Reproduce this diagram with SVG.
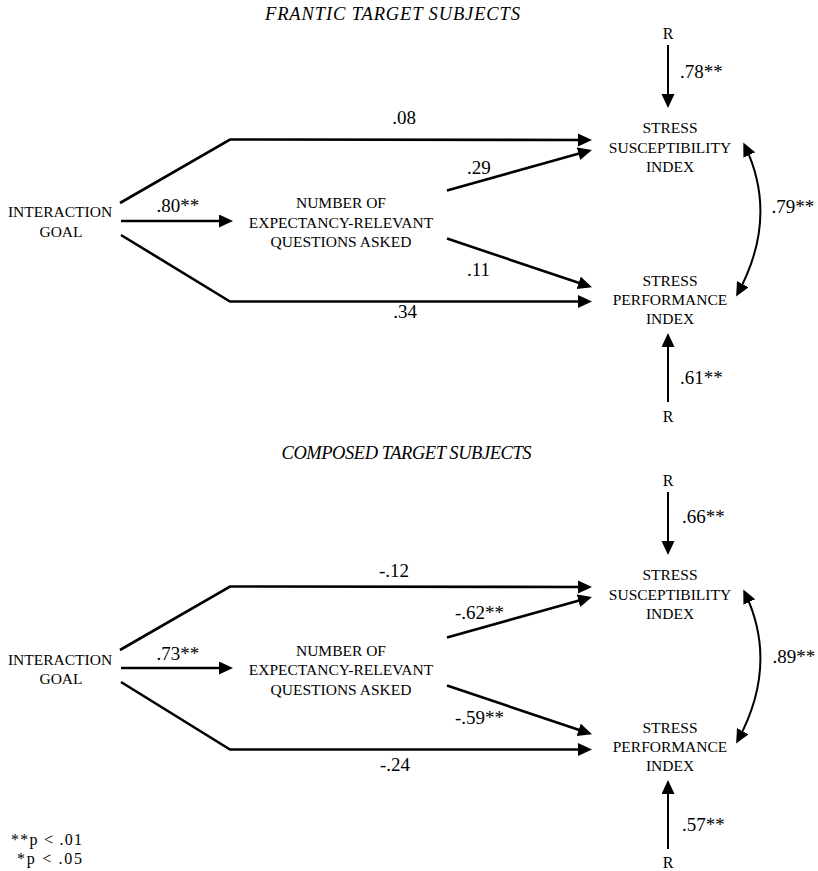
<svg xmlns="http://www.w3.org/2000/svg" width="818" height="871" viewBox="0 0 818 871" font-family="'Liberation Serif', 'Times New Roman', serif">
<style>
text{font-family:"Liberation Serif","Times New Roman",serif;fill:#000}
.t{font-size:18.5px;font-style:italic;text-anchor:middle}
.n{font-size:15.5px;text-anchor:middle}
.c{font-size:19px}
.rr{font-size:16px;text-anchor:middle}
.f{font-size:16px}
.m{text-anchor:middle}
.ln{fill:none;stroke:#000;stroke-width:2.6}
.r{fill:none;stroke:#000;stroke-width:2}
</style>
<defs>
<marker id="ah" markerUnits="userSpaceOnUse" markerWidth="16" markerHeight="14" refX="10" refY="6.5" orient="auto-start-reverse">
<path d="M0,0 L14,6.5 L0,13 z" fill="#000"/>
</marker>
</defs>
<rect width="818" height="871" fill="#fff"/>

<g id="connectors">
<g id="top-connectors">
<path class="ln" d="M120,203 L230,139.5 L588,140" marker-end="url(#ah)"/>
<line class="ln" x1="121" y1="221" x2="229" y2="221" marker-end="url(#ah)"/>
<path class="ln" d="M121,235 L230,301.5 L588,301.5" marker-end="url(#ah)"/>
<line class="ln" x1="447" y1="190.5" x2="588.1" y2="151.1" marker-end="url(#ah)"/>
<line class="ln" x1="447" y1="238.5" x2="588.2" y2="286" marker-end="url(#ah)"/>
<line class="r" x1="668" y1="45" x2="668" y2="104" marker-end="url(#ah)"/>
<line class="r" x1="668" y1="402" x2="668" y2="337" marker-end="url(#ah)"/>
<path class="r" d="M745,146 Q779,217 738,293" marker-start="url(#ah)" marker-end="url(#ah)"/>
</g>
<g id="bottom-connectors" transform="translate(0,447)">
<path class="ln" d="M120,203 L230,139.5 L588,140" marker-end="url(#ah)"/>
<line class="ln" x1="121" y1="221" x2="229" y2="221" marker-end="url(#ah)"/>
<path class="ln" d="M121,235 L230,302.5 L588,302.5" marker-end="url(#ah)"/>
<line class="ln" x1="447" y1="190.5" x2="588.1" y2="151.1" marker-end="url(#ah)"/>
<line class="ln" x1="447" y1="238.5" x2="588.2" y2="286" marker-end="url(#ah)"/>
<line class="r" x1="668" y1="45" x2="668" y2="104" marker-end="url(#ah)"/>
<line class="r" x1="668" y1="402" x2="668" y2="337" marker-end="url(#ah)"/>
<path class="r" d="M745,146 Q779,217 738,293" marker-start="url(#ah)" marker-end="url(#ah)"/>
</g>
</g>

<g id="labels-top">
<text class="c m" x="404" y="124.3">.08</text>
<text class="c" x="156.5" y="212.3">.80**</text>
<text class="c" x="467" y="174">.29</text>
<text class="c" x="467" y="276">.11</text>
<text class="c m" x="405" y="318">.34</text>
<text class="c" x="680" y="78">.78**</text>
<text class="c" x="771.5" y="213.3">.79**</text>
<text class="c" x="680" y="384">.61**</text>
</g>
<g id="labels-bottom">
<text class="c m" x="394" y="577">-.12</text>
<text class="c" x="156.5" y="659.5">.73**</text>
<text class="c" x="455" y="619">-.62**</text>
<text class="c" x="455" y="724">-.59**</text>
<text class="c m" x="395" y="771">-.24</text>
<text class="c" x="682" y="523">.66**</text>
<text class="c" x="772.5" y="663.3">.89**</text>
<text class="c" x="682" y="831">.57**</text>
</g>

<g id="title-top"><text class="t" x="392.5" y="20" textLength="255">FRANTIC TARGET SUBJECTS</text></g>
<g id="goal-top"><text class="n" x="60" y="217">INTERACTION</text><text class="n" x="61" y="236.5">GOAL</text></g>
<g id="questions-top"><text class="n" x="341" y="208">NUMBER OF</text><text class="n" x="341" y="227.5">EXPECTANCY-RELEVANT</text><text class="n" x="341" y="247">QUESTIONS ASKED</text></g>
<g id="susc-top"><text class="n" x="670" y="133">STRESS</text><text class="n" x="670" y="152.5">SUSCEPTIBILITY</text><text class="n" x="670" y="172">INDEX</text></g>
<g id="perf-top"><text class="n" x="670" y="285.5">STRESS</text><text class="n" x="670" y="304.5">PERFORMANCE</text><text class="n" x="670" y="324">INDEX</text></g>
<g id="r1-top"><text class="rr" x="668" y="39">R</text></g>
<g id="r2-top"><text class="rr" x="668" y="422">R</text></g>

<g id="title-bottom"><text class="t" x="406.5" y="459" textLength="250">COMPOSED TARGET SUBJECTS</text></g>
<g id="goal-bottom"><text class="n" x="60" y="665">INTERACTION</text><text class="n" x="61" y="684">GOAL</text></g>
<g id="questions-bottom"><text class="n" x="341" y="655.5">NUMBER OF</text><text class="n" x="341" y="675">EXPECTANCY-RELEVANT</text><text class="n" x="341" y="694.5">QUESTIONS ASKED</text></g>
<g id="susc-bottom"><text class="n" x="670" y="580">STRESS</text><text class="n" x="670" y="599.5">SUSCEPTIBILITY</text><text class="n" x="670" y="619">INDEX</text></g>
<g id="perf-bottom"><text class="n" x="670" y="732.5">STRESS</text><text class="n" x="670" y="751.5">PERFORMANCE</text><text class="n" x="670" y="771">INDEX</text></g>
<g id="r1-bottom"><text class="rr" x="668" y="486">R</text></g>
<g id="r2-bottom"><text class="rr" x="668" y="868">R</text></g>

<g id="legend">
<text class="f" x="11" y="845" textLength="71">**p &lt; .01</text>
<text class="f" x="17" y="863.5" textLength="65">*p &lt; .05</text>
</g>
</svg>
